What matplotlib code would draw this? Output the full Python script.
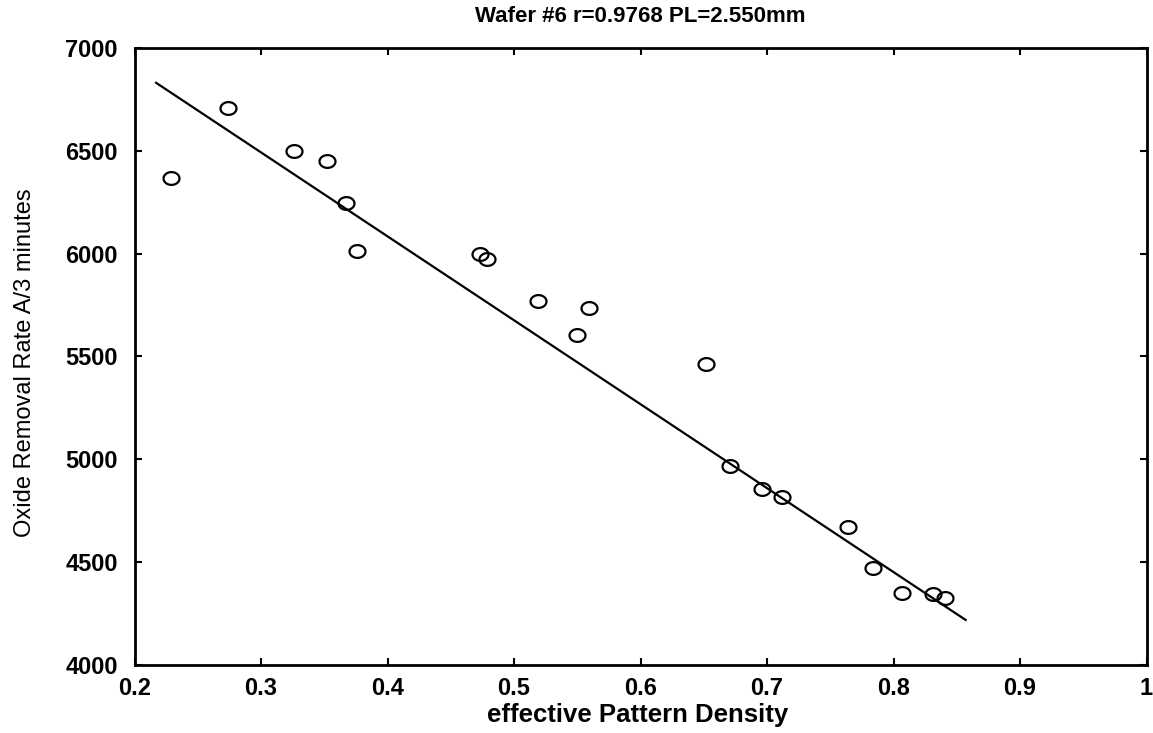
import numpy as np
import matplotlib
matplotlib.use("Agg")
import matplotlib.pyplot as plt
from matplotlib.path import Path

plt.rcParams['font.family'] = ['Liberation Sans', 'DejaVu Sans']

# Data
density = [0.229, 0.274, 0.326, 0.352, 0.367, 0.376, 0.473, 0.479, 0.519,
           0.559, 0.550, 0.652, 0.671, 0.696, 0.712, 0.764, 0.784, 0.807,
           0.831, 0.841]
removal = [6366, 6707, 6501, 6449, 6245, 6013, 5997, 5973, 5770,
           5737, 5605, 5462, 4969, 4854, 4818, 4673, 4470, 4352,
           4345, 4324]
fit_x = [0.217, 0.857]
fit_y = [6831, 4219]

xticks = [0.2, 0.3, 0.4, 0.5, 0.6, 0.7, 0.8, 0.9, 1.0]
xtick_labels = ['0.2', '0.3', '0.4', '0.5', '0.6', '0.7', '0.8', '0.9', '1']
yticks = [4000, 4500, 5000, 5500, 6000, 6500, 7000]

title = 'Wafer #6 r=0.9768 PL=2.550mm'
xlabel = 'effective Pattern Density'
ylabel = 'Oxide Removal Rate A/3 minutes'

fig = plt.figure(figsize=(11.53, 7.33), dpi=100)
ax = fig.add_axes([0.1167, 0.0928, 0.9944 - 0.1167, 0.9345 - 0.0928])

# slightly wide ellipse marker
t = np.linspace(0, 2 * np.pi, 60)
ell = Path(np.column_stack([1.25 * np.cos(t), np.sin(t)]), closed=True)

ax.plot(fit_x, fit_y, color='black', lw=1.6)
ax.plot(density, removal, linestyle='none', marker=ell, markersize=11.5,
        markerfacecolor='none', markeredgecolor='black', markeredgewidth=1.6)

ax.set_xlim(0.2, 1.0)
ax.set_ylim(4000, 7000)
ax.set_xticks(xticks)
ax.set_xticklabels(xtick_labels)
ax.set_yticks(yticks)

for s in ax.spines.values():
    s.set_linewidth(2.0)

ax.tick_params(axis='both', direction='in', length=5, width=1.5,
               top=True, right=True, labelsize=17)
ax.tick_params(axis='x', pad=9)
ax.tick_params(axis='y', pad=12)
for lab in ax.get_xticklabels() + ax.get_yticklabels():
    lab.set_fontweight('bold')

ax.set_title(title, fontsize=16, fontweight='bold', pad=19)
ax.set_xlabel(xlabel, fontsize=18.5, fontweight='bold')
ax.xaxis.set_label_coords(0.497, -0.061)
ax.set_ylabel(ylabel, fontsize=17)
ax.yaxis.set_label_coords(-0.097, 0.49)

fig.savefig('out.png', dpi=100)
